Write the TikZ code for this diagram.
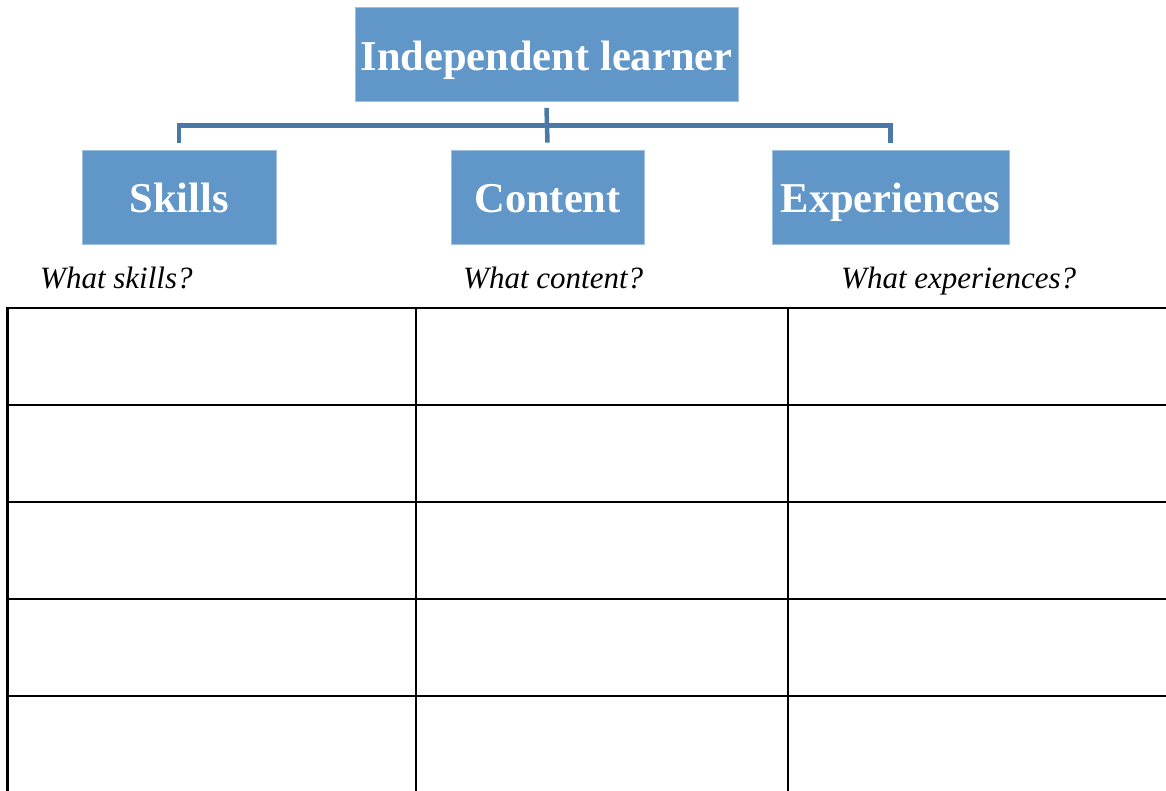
\documentclass[tikz,border=0pt]{standalone}
\usepackage{fontspec}
\setmainfont{Liberation Serif}
\usetikzlibrary{positioning}
\definecolor{boxblue}{RGB}{97,150,201}
\definecolor{connblue}{RGB}{74,121,168}
\begin{document}
\begin{tikzpicture}[x=1pt,y=-1pt,
  box/.style={fill=boxblue,draw=boxblue!60!white,line width=0.8pt,inner sep=0pt,
    text=white,font=\fontsize{42.5}{50}\selectfont\bfseries,
    text height=32pt,text depth=0pt,minimum height=94pt},
  conn/.style={draw=connblue,line width=4.5pt},
  ask/.style={font=\fontsize{31}{36}\selectfont\itshape,anchor=base west,inner sep=0pt},
  grid/.style={line width=2.6pt,black}]
\useasboundingbox (0,0) rectangle (1166,791);
% boxes
\node[box,minimum width=383pt] (top) at (546.5,54.5) {Independent learner};
\node[box,minimum width=194pt] (skills) at (179,197) {Skills};
\node[box,minimum width=193pt] (content) at (547.5,197) {Content};
\node[box,minimum width=237pt] (exp) at (890.5,197) {Experiences};
% connectors
\draw[conn] ([yshift=-6pt]top.south) -- ([yshift=7pt]content.north);
\draw[conn] ([yshift=7pt]skills.north) -- ++(0,-17) -| ([yshift=7pt]exp.north);
% questions
\node[ask] (q1) at (40,289) {What skills?};
\node[ask] (q2) at (463,289) {What content?};
\node[ask] (q3) at (841,289) {What experiences?};
% table
\draw[grid] (1167,308) -- (7.5,308) -- (7.5,792);
\draw[grid] (416,308) -- (416,792);
\draw[grid] (788,308) -- (788,792);
\foreach \y in {405,502,599,696} \draw[grid] (7.5,\y) -- (1167,\y);
\end{tikzpicture}
\end{document}
